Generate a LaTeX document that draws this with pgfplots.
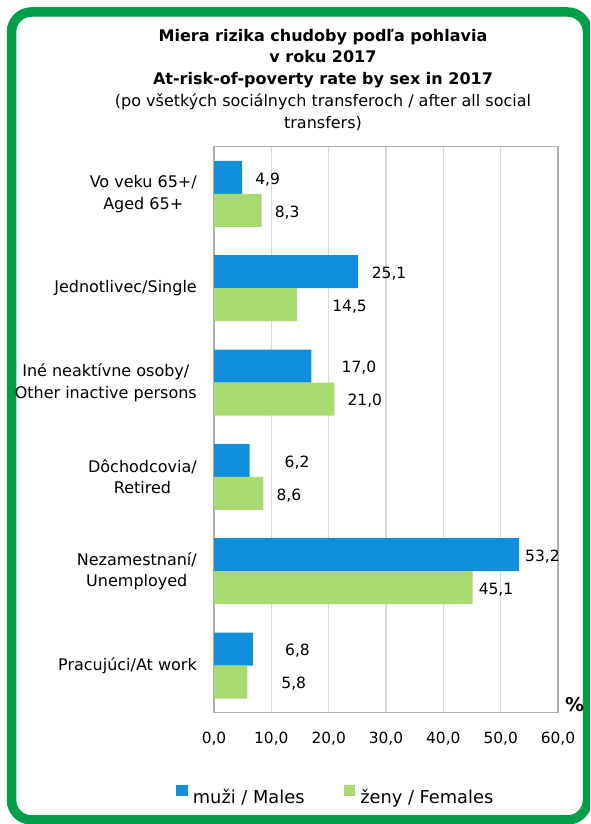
\documentclass[border=0pt]{standalone}
\usepackage{pgfplots}
\pgfplotsset{compat=1.18}
\usepackage{pgfplotstable}
\usepackage{fontspec}
\setmainfont{DejaVu Sans}
\definecolor{mblue}{RGB}{18,143,220}
\definecolor{fgreen}{RGB}{169,217,113}
\definecolor{frame}{RGB}{0,158,73}
\definecolor{boxgray}{RGB}{175,175,175}
\definecolor{gridgray}{RGB}{217,217,217}
\pgfplotstableread{
y x dx
0 6.8 32
1 53.2 6
2 6.2 35
3 17.0 30
4 25.1 13.7
5 4.9 13
}\males
\pgfplotstableread{
y x dx
0 5.8 34
1 45.1 6
2 8.6 13
3 21.0 13
4 14.5 35
5 8.3 13
}\females
\begin{document}
\begin{tikzpicture}[x=1pt,y=1pt]
\useasboundingbox (0,0) rectangle (590,824);
\clip (0,0) rectangle (590,824);
\draw[line width=9.5pt, rounded corners=20pt, draw=frame] (11.5,812) rectangle (587.5,4);
\node[align=center, font=\fontsize{16}{21.75}\selectfont, inner sep=0pt] at (323,744.5)
 {\textbf{Miera rizika chudoby podľa pohlavia}\\
  \textbf{v roku 2017}\\
  \textbf{At-risk-of-poverty rate by sex in 2017}\\
  (po všetkých sociálnych transferoch / after all social\\
  transfers)};
\begin{axis}[
  at={(214pt,111.3pt)}, anchor=south west,
  scale only axis, width=344pt, height=566pt,
  xmin=0, xmax=60, ymin=-0.5, ymax=5.5,
  xtick={0,10,...,60},
  ytick={0,1,2,3,4,5},
  yticklabels={Pracujúci/At work, {Nezamestnaní/\\Unemployed}, {Dôchodcovia/\\Retired}, {Iné neaktívne osoby/\\Other inactive persons}, Jednotlivec/Single, {Vo veku 65+/\\Aged 65+}},
  yticklabel style={align=center, inner sep=0pt, anchor=east, xshift=-17pt, font=\fontsize{16}{21.7}\selectfont},
  xticklabel style={inner sep=0pt, anchor=north, yshift=-19.5pt, font=\fontsize{15.4}{18}\selectfont},
  /pgf/number format/.cd, fixed, fixed zerofill, precision=1, use comma, assume math mode=true,
  /pgfplots/.cd,
  tick style={draw=none},
  xmajorgrids, grid style={draw=gridgray, line width=1.2pt},
  axis line style={draw=boxgray, line width=1.5pt},
  clip=false,
  legend style={at={(-0.11047,-0.1453)}, anchor=west, draw=none, fill=none, inner sep=0pt,
    nodes={inner sep=0pt, font=\fontsize{17.8}{21}\selectfont},
    legend columns=2,
    /tikz/every odd column/.append style={column sep=5pt},
    /tikz/every even column/.append style={column sep=39pt}},
]
\addplot[xbar, bar width=33pt, bar shift=16.5pt, fill=mblue, draw=none,
  point meta=x, nodes near coords,
  visualization depends on={\thisrow{dx} \as \dx},
  every node near coord/.append style={anchor=west, inner sep=0pt, xshift=\dx*1pt, yshift=14.5pt, text=black, font=\fontsize{15.5}{18}\selectfont},
  legend image code/.code={\fill[mblue] (0pt,1pt) rectangle (11.7pt,12.7pt);}]
  table[x=x,y=y] {\males};
\addplot[xbar, bar width=33pt, bar shift=-16.5pt, fill=fgreen, draw=none,
  point meta=x, nodes near coords,
  visualization depends on={\thisrow{dx} \as \dx},
  every node near coord/.append style={anchor=west, inner sep=0pt, xshift=\dx*1pt, yshift=-18.5pt, text=black, font=\fontsize{15.5}{18}\selectfont},
  legend image code/.code={\fill[fgreen] (0pt,1pt) rectangle (11.7pt,12.7pt);}]
  table[x=x,y=y] {\females};
\legend{muži / Males, ženy / Females}
\node[anchor=south west, inner sep=0pt, font=\fontsize{19}{22}\selectfont\bfseries, xshift=7pt, yshift=1pt] at (rel axis cs:1,0) {\%};
\end{axis}
\end{tikzpicture}
\end{document}
